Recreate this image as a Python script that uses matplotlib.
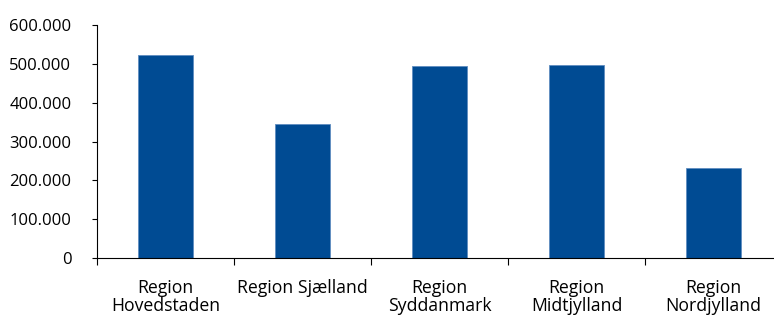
import matplotlib
matplotlib.use("Agg")
import matplotlib.pyplot as plt
from matplotlib.ticker import FuncFormatter, FixedLocator

plt.rcParams['font.family'] = ['Open Sans', 'DejaVu Sans']

regions = ["Region\nHovedstaden", "Region Sjælland", "Region\nSyddanmark",
           "Region\nMidtjylland", "Region\nNordjylland"]
population = [524000, 344000, 494000, 498000, 232000]
y_ticks = [0, 100000, 200000, 300000, 400000, 500000, 600000]

fig = plt.figure(figsize=(7.74, 3.2), dpi=100)
ax = fig.add_axes([97 / 774, 62 / 320, 685 / 774, 233 / 320])

x = list(range(len(regions)))
ax.bar(x, population, width=0.405, color="#004B93", edgecolor="#5F8DC0",
       linewidth=0.6, zorder=2)

ax.set_xlim(-0.5, len(regions) - 0.5)
ax.set_ylim(0, 600000)
ax.set_yticks(y_ticks)
ax.yaxis.set_major_formatter(
    FuncFormatter(lambda v, _: f"{int(v):,}".replace(",", ".")))

# category labels centred on bars, tick marks between categories
ax.set_xticks(x)
ax.set_xticklabels(regions, fontsize=12.7, linespacing=1.0)
ax.tick_params(axis="x", which="major", length=0, pad=15)
ax.xaxis.set_minor_locator(FixedLocator([i - 0.5 for i in range(len(regions) + 1)]))
ax.tick_params(axis="x", which="minor", length=5, width=0.8, color="black")

ax.tick_params(axis="y", length=3.5, width=0.8, pad=15, labelsize=12)

for side in ("top", "right"):
    ax.spines[side].set_visible(False)
for side in ("left", "bottom"):
    ax.spines[side].set_linewidth(0.8)
    ax.spines[side].set_color("black")

fig.savefig("out.png", dpi=100)
